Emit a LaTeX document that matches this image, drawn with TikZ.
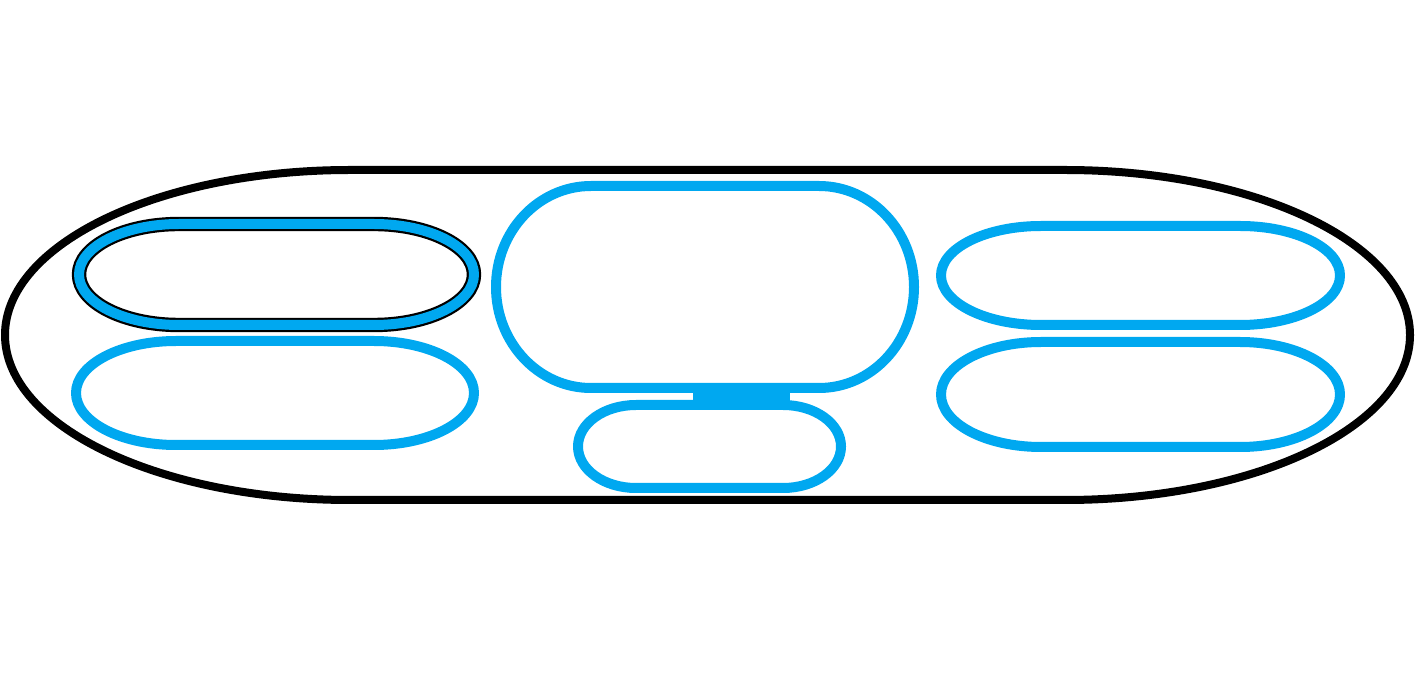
\documentclass[tikz,border=0pt]{standalone}
\definecolor{pillblue}{RGB}{0,168,240}
% capsule: [style]{left}{right}{centre y}{end x radius}{end y radius}
\newcommand{\pill}[6][]{%
  \draw[#1] ({#2+#5},{#4+#6}) -- ({#3-#5},{#4+#6})
    arc[start angle=90, end angle=-90, x radius=#5, y radius=#6]
    -- ({#2+#5},{#4-#6})
    arc[start angle=270, end angle=90, x radius=#5, y radius=#6] -- cycle;}
\begin{document}
\begin{tikzpicture}[
    x=0.25mm, y=0.25mm,
    outline/.style={draw=black, line width=2mm, line join=round},
    bluepill/.style={draw=pillblue, line width=2.5mm, line join=round},
    blackedge/.style={draw=black, line width=3.6mm, line join=round},
    ]
    \useasboundingbox (0,0) rectangle (1416,672);

    % Outer body
    \pill[outline]{5}{1410}{337}{345}{165}

    % Left column
    \pill[blackedge]{79}{474}{397.5}{100}{50.5}
    \pill[bluepill]{79}{474}{397.5}{100}{50.5}
    \pill[bluepill]{76}{474}{279}{100}{52}

    % Centre
    \pill[bluepill]{496}{914}{385}{95}{101}
    \fill[pillblue] (693,284) rectangle (790,262);
    \pill[bluepill]{578}{841}{225.5}{58}{41.5}

    % Right column
    \pill[bluepill]{941}{1340}{396.5}{100}{49.5}
    \pill[bluepill]{941}{1340}{277.5}{100}{52.5}

\end{tikzpicture}
\end{document}
